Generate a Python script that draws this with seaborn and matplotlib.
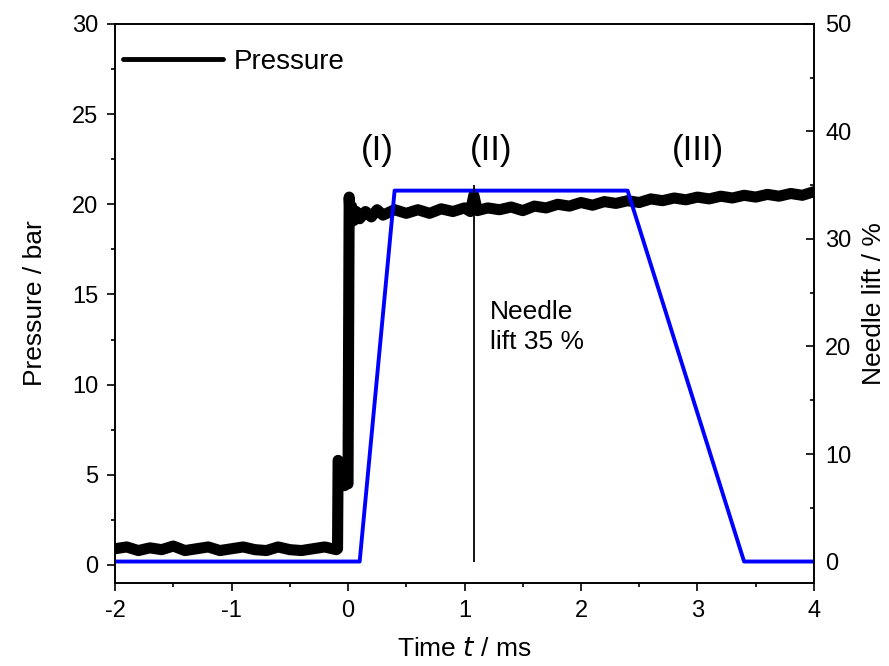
import matplotlib
matplotlib.use("Agg")
import matplotlib.pyplot as plt
import seaborn as sns
import pandas as pd
from matplotlib.ticker import MultipleLocator

# ---- data ----
pressure_time = [-2.0, -1.9, -1.8, -1.7, -1.6, -1.5, -1.4, -1.3, -1.2, -1.1,
                 -1.0, -0.9, -0.8, -0.7, -0.6, -0.5, -0.4, -0.3, -0.2, -0.1,
                 -0.09, -0.085, -0.07, -0.06, -0.05, -0.03, -0.01, 0.0,
                 0.01, 0.02, 0.03, 0.05, 0.07, 0.1, 0.15, 0.2, 0.25, 0.3,
                 0.4, 0.5, 0.6, 0.7, 0.8, 0.9, 1.0, 1.05, 1.08, 1.11, 1.2,
                 1.3, 1.4, 1.5, 1.6, 1.7, 1.8, 1.9, 2.0, 2.1, 2.2, 2.3, 2.4,
                 2.5, 2.6, 2.7, 2.8, 2.9, 3.0, 3.1, 3.2, 3.3, 3.4, 3.5, 3.6,
                 3.7, 3.8, 3.9, 4.0]
pressure_bar = [0.9, 1.0, 0.8, 0.95, 0.85, 1.05, 0.8, 0.9, 1.0, 0.8,
                0.9, 1.0, 0.85, 0.8, 1.0, 0.85, 0.8, 0.9, 1.0, 0.85,
                0.9, 5.8, 5.5, 4.4, 4.7, 4.4, 4.6, 4.5,
                20.4, 19.0, 19.9, 19.1, 19.6, 19.2, 19.6, 19.3, 19.7, 19.4,
                19.7, 19.5, 19.7, 19.5, 19.75, 19.6, 19.8, 19.6, 20.5, 19.65, 19.8,
                19.7, 19.85, 19.65, 19.9, 19.8, 20.0, 19.9, 20.1, 19.95, 20.15, 20.05, 20.2,
                20.1, 20.3, 20.2, 20.35, 20.25, 20.4, 20.3, 20.45, 20.35, 20.5, 20.4, 20.55,
                20.45, 20.6, 20.5, 20.7]

lift_time = [-2.0, 0.1, 0.4, 2.4, 3.4, 4.0]
lift_percent = [0.0, 0.0, 34.5, 34.5, 0.0, 0.0]

marker_time = 1.08
marker_lift = [0.0, 35.0]

phase_labels = ["(I)", "(II)", "(III)"]
phase_x = [0.25, 1.23, 3.0]
phase_y = [23.0, 23.0, 23.0]

# ---- plotting ----
sns.set_theme(style="ticks")
plt.rcParams["font.family"] = ["Liberation Sans", "DejaVu Sans"]
plt.rcParams.update({"text.color": "black", "axes.labelcolor": "black",
                     "xtick.color": "black", "ytick.color": "black",
                     "axes.edgecolor": "black"})

fig = plt.figure(figsize=(8.89, 6.66), dpi=100)
ax = fig.add_axes([0.1294, 0.1246, 0.7862, 0.8394])
ax2 = ax.twinx()

df_p = pd.DataFrame({"t": pressure_time, "p": pressure_bar})
df_l = pd.DataFrame({"t": lift_time, "l": lift_percent})

sns.lineplot(data=df_p, x="t", y="p", ax=ax, color="black", lw=8,
             label="Pressure", sort=False, zorder=3)
sns.lineplot(data=df_l, x="t", y="l", ax=ax2, color="#0000ff", lw=2.8,
             sort=False, legend=False)
ax2.vlines(marker_time, marker_lift[0], marker_lift[1], color="black", lw=1.3)

ax.set_xlim(-2, 4)
ax.set_ylim(-1, 30)
ax2.set_ylim(-2, 50)

ax.xaxis.set_major_locator(MultipleLocator(1))
ax.xaxis.set_minor_locator(MultipleLocator(0.5))
ax.yaxis.set_major_locator(MultipleLocator(5))
ax.yaxis.set_minor_locator(MultipleLocator(2.5))
ax2.yaxis.set_major_locator(MultipleLocator(10))
ax2.yaxis.set_minor_locator(MultipleLocator(5))

ax.set_xticks([-2, -1, 0, 1, 2, 3, 4])
ax.set_xticklabels(["-2", "-1", "0", "1", "2", "3", "4"])

ax.tick_params(axis="both", which="major", direction="out", length=6, width=1.2,
               labelsize=17, top=False, pad=6)
ax.tick_params(axis="both", which="minor", direction="out", length=3, width=1.2,
               top=False)
ax2.tick_params(axis="y", which="major", direction="in", length=6, width=1.2,
                labelsize=17, pad=8)
ax2.tick_params(axis="y", which="minor", direction="in", length=3, width=1.2)

for a in (ax, ax2):
    for s in a.spines.values():
        s.set_visible(True)
        s.set_linewidth(1.2)
        s.set_color("black")

ax.set_xlabel("Time $\\it{t}$ / ms", fontsize=19, labelpad=11)
ax.set_ylabel("Pressure / bar", fontsize=19, labelpad=18)
ax2.set_ylabel("Needle lift / %", fontsize=19, labelpad=8)

for lab, x, y in zip(phase_labels, phase_x, phase_y):
    ax.text(x, y, lab, fontsize=25, ha="center", va="center")

ax.text(1.22, 13.2, "Needle\nlift 35 %", fontsize=19, ha="left", va="center",
        linespacing=1.3)

leg = ax.legend(loc="upper left", frameon=False, fontsize=20,
                handlelength=3.6, handletextpad=0.4,
                bbox_to_anchor=(-0.005, 0.975), borderaxespad=0.0)
for h in leg.get_lines():
    h.set_linewidth(3.5)

fig.savefig("out.png", dpi=100)
